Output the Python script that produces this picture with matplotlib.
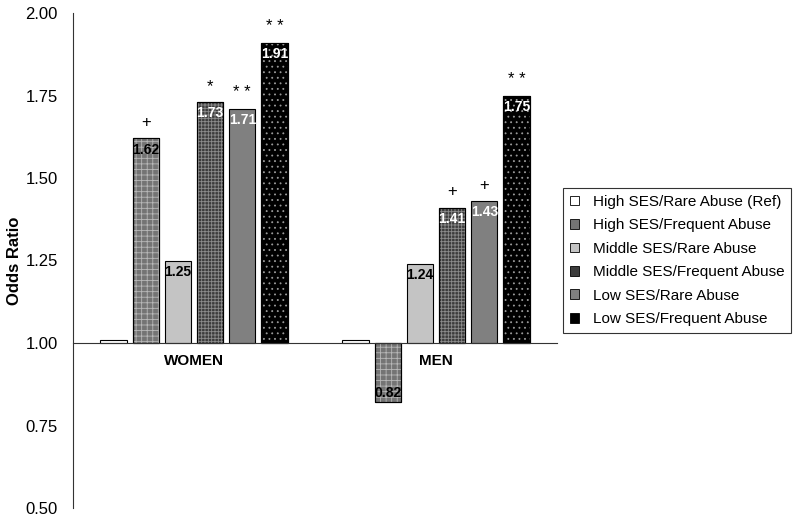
import numpy as np
import matplotlib
matplotlib.use("Agg")
import matplotlib.pyplot as plt
from matplotlib.patches import Patch

plt.rcParams['font.family'] = ['Liberation Sans', 'DejaVu Sans']
plt.rcParams['hatch.linewidth'] = 0.6

groups = ["WOMEN", "MEN"]
series = ["High SES/Rare Abuse (Ref)", "High SES/Frequent Abuse",
          "Middle SES/Rare Abuse", "Middle SES/Frequent Abuse",
          "Low SES/Rare Abuse", "Low SES/Frequent Abuse"]
# odds ratios, rows = series, cols = groups
values = [[1.01, 1.01],
          [1.62, 0.82],
          [1.25, 1.24],
          [1.73, 1.41],
          [1.71, 1.43],
          [1.91, 1.75]]
value_labels = [["", ""],
                ["1.62", "0.82"],
                ["1.25", "1.24"],
                ["1.73", "1.41"],
                ["1.71", "1.43"],
                ["1.91", "1.75"]]
signif = [["", ""],
          ["+", ""],
          ["", ""],
          ["*", "+"],
          ["**", "+"],
          ["**", "**"]]

faces = ["white", "#747474", "#c4c4c4", "#3c3c3c", "#808080", "black"]
hatches = [None, "+++", None, "+++++", None, "..."]
hatch_cols = [None, "#b8b8b8", None, "#8c8c8c", None, "#9a9a9a"]
text_cols = ["black", "black", "black", "white", "white", "white"]

fig = plt.figure(figsize=(8, 5.16), dpi=100)
ax = fig.add_axes([73/800, 1-508/516, (557-73)/800, (508-13)/516])

# axis line crosses at OR = 1 (set before tick styling, it resets ticks)
for s in ["top", "right"]:
    ax.spines[s].set_visible(False)
ax.spines["bottom"].set_position(("data", 1.0))
ax.spines["bottom"].set_color("#333333")
ax.spines["left"].set_color("#333333")
ax.spines["bottom"].set_zorder(6)

x = np.arange(len(groups))
step = 0.133
width = 0.108
base = 1.0

handles = []
for i, name in enumerate(series):
    vals = np.array(values[i])
    pos = x + (i - 2.5) * step
    ax.bar(pos, vals - base, width, bottom=base, color=faces[i],
           edgecolor="black", linewidth=0.8, zorder=2)
    if hatches[i]:
        ax.bar(pos, vals - base, width, bottom=base, color="none",
               edgecolor=hatch_cols[i], hatch=hatches[i], linewidth=0, zorder=3)
        ax.bar(pos, vals - base, width, bottom=base, color="none",
               edgecolor="black", linewidth=0.8, zorder=4)
    for j in range(len(groups)):
        v = vals[j]
        if value_labels[i][j]:
            if v >= base:
                ax.annotate(value_labels[i][j], (pos[j], v), xytext=(0, -3),
                            textcoords="offset points", ha="center", va="top",
                            fontsize=10, fontweight="bold", color=text_cols[i], zorder=5)
            else:
                ax.annotate(value_labels[i][j], (pos[j], v), xytext=(0, 2),
                            textcoords="offset points", ha="center", va="bottom",
                            fontsize=10, fontweight="bold", color=text_cols[i], zorder=5)
        if signif[i][j]:
            ax.annotate(" ".join(signif[i][j]), (pos[j], v), xytext=(0, 6),
                        textcoords="offset points", ha="center", va="bottom",
                        fontsize=12, zorder=5)
    handles.append(Patch(facecolor=faces[i], edgecolor="black", linewidth=0.6))

ax.set_xlim(-0.5, 1.5)
ax.set_ylim(0.5, 2.0)
ax.tick_params(axis="y", length=0, pad=11, labelsize=12)
ax.tick_params(axis="x", length=0, pad=8)
yt = np.arange(0.5, 2.01, 0.25)
ax.set_yticks(yt)
ax.set_yticklabels([f"{t:.2f}" for t in yt])
ax.set_xticks(x)
ax.set_xticklabels(groups, fontweight="bold", fontsize=11)
ax.set_ylabel("Odds Ratio", fontweight="bold", fontsize=12)
ax.yaxis.set_label_coords(-0.105, 0.5)

leg = fig.legend(handles, series, loc="center left",
                 bbox_to_anchor=(563/800, 1-260.5/516), fontsize=11,
                 frameon=True, fancybox=False, edgecolor="black",
                 handlelength=0.6, handleheight=0.6, handletextpad=0.9,
                 labelspacing=0.62, borderpad=0.45, borderaxespad=0)
leg.get_frame().set_linewidth(0.8)

fig.savefig("out.png", dpi=100)
